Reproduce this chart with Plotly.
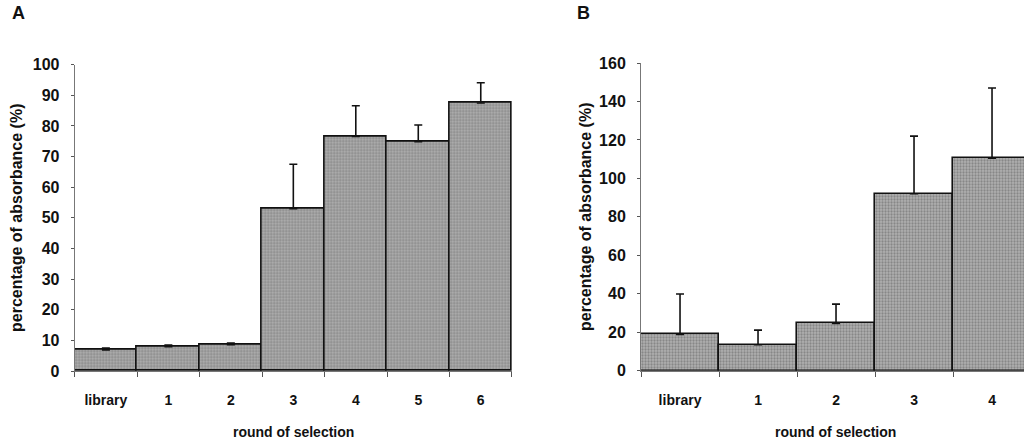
import plotly.graph_objects as go

categories_a = ["library", "1", "2", "3", "4", "5", "6"]
values_a = [6.9, 7.9, 8.6, 53.0, 76.6, 74.9, 87.5]
errors_a = [0.6, 0.6, 0.5, 14.5, 10.0, 5.4, 6.6]

categories_b = ["library", "1", "2", "3", "4"]
values_b = [18.9, 13.5, 24.6, 92.0, 110.5]
errors_b = [21.0, 7.6, 10.0, 30.0, 36.5]

ticks_a = list(range(0, 101, 10))
ticks_b = list(range(0, 161, 20))

FONT = "Liberation Sans, Arial, sans-serif"
W, H = 1024, 441

def bar(cats, vals, errs, xa, ya):
    return go.Bar(
        x=cats, y=vals, xaxis=xa, yaxis=ya,
        marker=dict(
            color="#9c9c9c",
            line=dict(color="#111111", width=1.6),
            pattern=dict(shape=".", fgcolor="#5a5a5a", bgcolor="#b2b2b2",
                         size=3, solidity=0.45),
        ),
        error_y=dict(type="data", symmetric=False, array=errs,
                     arrayminus=[0] * len(errs),
                     color="#111111", thickness=1.6, width=4),
        showlegend=False,
        hoverinfo="skip",
    )

fig = go.Figure()
fig.add_trace(bar(categories_a, values_a, errors_a, "x", "y"))
fig.add_trace(bar(categories_b, values_b, errors_b, "x2", "y2"))

xcommon = dict(type="category", tickson="boundaries", ticks="outside", ticklen=5,
               tickcolor="#555555", showline=True, linecolor="#777777", linewidth=1,
               showgrid=False, zeroline=False, ticklabelstandoff=16,
               tickfont=dict(family=FONT, size=14, color="#111111", weight="bold"))
ycommon = dict(ticks="outside", ticklen=3, tickcolor="#555555", showline=True,
               linecolor="#777777", linewidth=1, showgrid=False, zeroline=False,
               ticklabelstandoff=8,
               tickfont=dict(family=FONT, size=16, color="#111111", weight="bold"))

def ann(text, px, py, size, angle=0, xanchor="center"):
    return dict(text="<b>" + text + "</b>", x=px / W, y=1 - py / H,
                xref="paper", yref="paper", showarrow=False, textangle=angle,
                xanchor=xanchor, yanchor="middle",
                font=dict(family=FONT, size=size, color="#111111"))

fig.update_layout(
    width=W, height=H,
    margin=dict(l=0, r=0, t=0, b=0, autoexpand=False),
    paper_bgcolor="white", plot_bgcolor="white",
    bargap=0,
    xaxis=dict(domain=[0.0729, 0.5], range=[-0.5, 6.5], anchor="y", **xcommon),
    yaxis=dict(domain=[0.1587, 0.8533], range=[0, 100], tickvals=ticks_a,
               anchor="x", **ycommon),
    xaxis2=dict(domain=[0.626, 1.0], range=[-0.5, 4.41], anchor="y2", **xcommon),
    yaxis2=dict(domain=[0.1594, 0.857], range=[0, 160], tickvals=ticks_b,
                anchor="x2", **ycommon),
    annotations=[
        ann("A", 10, 13, 18, xanchor="left"),
        ann("B", 575, 13, 18, xanchor="left"),
        ann("round of selection", 293, 432, 14),
        ann("round of selection", 835, 432, 14),
        ann("percentage of absorbance (%)", 17, 218, 16, angle=-90),
        ann("percentage of absorbance (%)", 585, 217, 16, angle=-90),
    ],
)

fig.write_html(
    "out.html",
    config={"displayModeBar": False},
    post_script="document.body.style.margin='0';document.body.style.padding='0';"
                "document.body.style.overflow='hidden';",
)
